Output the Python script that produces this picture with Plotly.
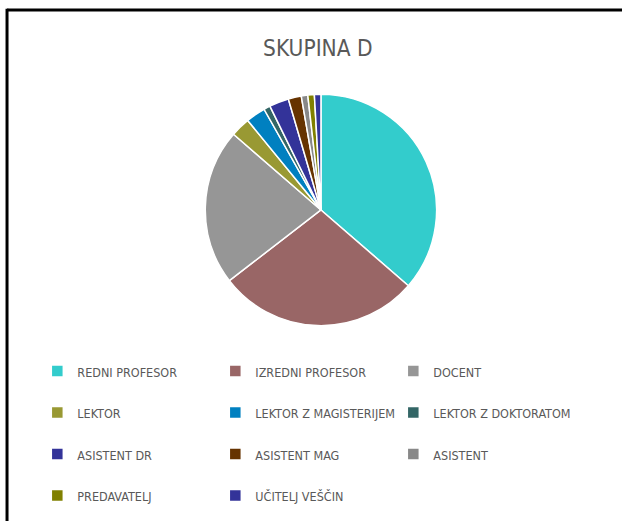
import plotly.graph_objects as go

categories = [
    "REDNI PROFESOR", "IZREDNI PROFESOR", "DOCENT",
    "LEKTOR", "LEKTOR Z MAGISTERIJEM", "LEKTOR Z DOKTORATOM",
    "ASISTENT DR", "ASISTENT MAG", "ASISTENT",
    "PREDAVATELJ", "UČITELJ VEŠČIN",
]
values = [40, 31, 24, 3, 3, 1, 3, 2, 1, 1, 1]
colors = [
    "#33CCCC", "#996666", "#969696",
    "#999933", "#0080C0", "#336666",
    "#333399", "#663300", "#888888",
    "#808000", "#333399",
]
title_text = "SKUPINA D"

font_family = "Liberation Sans Narrow, DejaVu Sans Condensed, Arial Narrow, sans-serif"
text_color = "#595959"

# legend labels: smaller text plus an empty second line so rows are spaced like the original
legend_labels = ["<span style='font-size:12.5px'>" + c + "</span><br>&nbsp;" for c in categories]

fig = go.Figure(
    go.Pie(
        labels=legend_labels,
        values=values,
        sort=False,
        direction="clockwise",
        rotation=0,
        textinfo="none",
        marker=dict(colors=colors, line=dict(color="white", width=1.5)),
        domain=dict(x=[0.2, 0.832], y=[0.375, 0.819]),
        hovertemplate="%{customdata}: %{value}<extra></extra>",
        customdata=categories,
    )
)

fig.update_layout(
    width=622,
    height=531,
    margin=dict(l=0, r=0, t=0, b=0),
    paper_bgcolor="white",
    plot_bgcolor="white",
    font=dict(family=font_family, color=text_color),
    title=dict(
        text=title_text,
        x=0.511, xanchor="center",
        y=0.91, yanchor="middle",
        font=dict(size=22.5, family=font_family, color=text_color),
    ),
    showlegend=True,
    legend=dict(
        orientation="h",
        x=0.06, xanchor="left",
        y=0.318, yanchor="top",
        entrywidth=133, entrywidthmode="pixels",
        valign="top",
        font=dict(size=14.8, family=font_family, color=text_color),
        bgcolor="rgba(0,0,0,0)",
    ),
    shapes=[
        dict(type="line", xref="paper", yref="paper", x0=0.0113, x1=1.0, y0=0.981, y1=0.981,
             line=dict(color="black", width=3)),
        dict(type="line", xref="paper", yref="paper", x0=0.0113, x1=0.0113, y0=0.0, y1=0.983,
             line=dict(color="black", width=3)),
    ],
)

fig.write_html(
    "out.html",
    config={"displayModeBar": False},
    post_script="document.body.style.margin='0';",
)
